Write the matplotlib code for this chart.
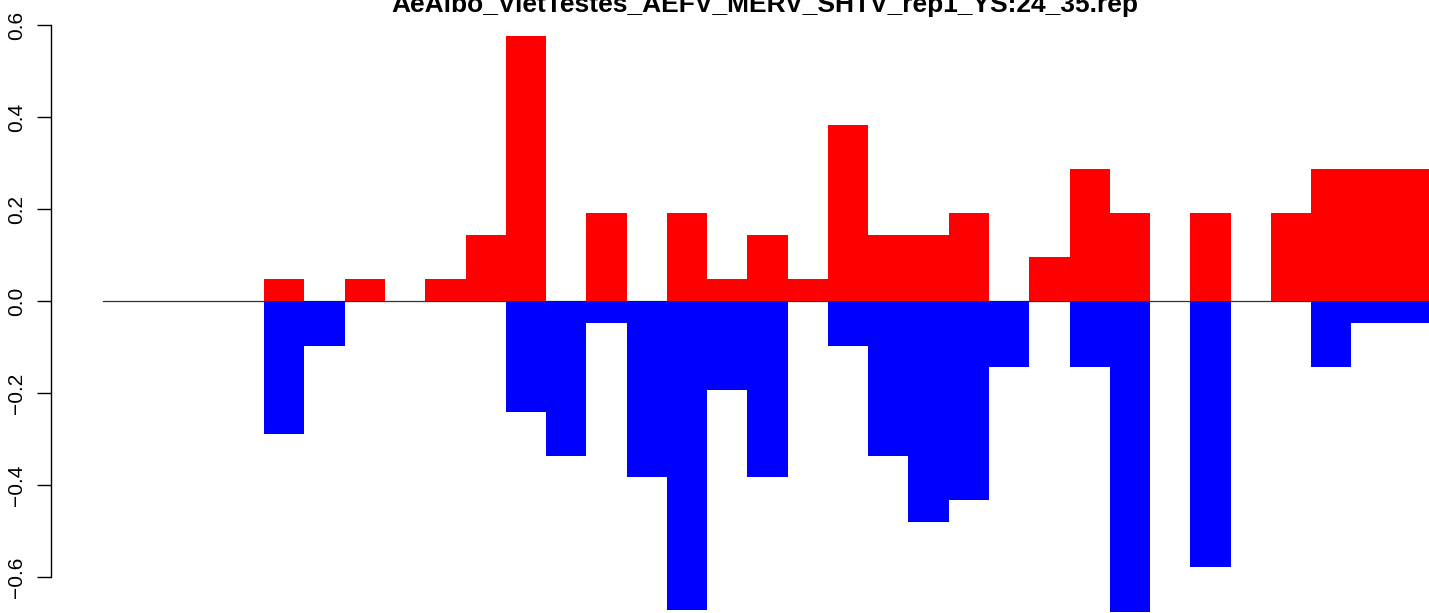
"""
Signed bar plot (R barplot style): red = positive share, blue = negative share,
one bar per position, no gaps between bars.

Output:
- out.png
"""

import matplotlib
matplotlib.use("Agg")
import matplotlib.pyplot as plt
import numpy as np


# -----------------------------
# Data
# -----------------------------
TITLE = "AeAlbo_VietTestes_AEFV_MERV_SHTV_rep1_YS:24_35.rep"

pos_values = [0, 0, 0, 0, 0.048, 0, 0.048, 0, 0.048, 0.143, 0.577, 0, 0.192, 0,
              0.192, 0.048, 0.143, 0.048, 0.383, 0.143, 0.143, 0.192, 0, 0.095,
              0.287, 0.192, 0, 0.192, 0, 0.192, 0.287, 0.287, 0.287]

neg_values = [0, 0, 0, 0, -0.288, -0.097, 0, 0, 0, 0, -0.240, -0.337, -0.048,
              -0.383, -0.672, -0.193, -0.383, 0, -0.097, -0.337, -0.480, -0.431,
              -0.143, 0, -0.143, -0.676, 0, -0.577, 0, 0, -0.143, -0.048, -0.048]

y_ticks = [-0.6, -0.4, -0.2, 0.0, 0.2, 0.4, 0.6]
y_ticklabels = ["\u22120.6", "\u22120.4", "\u22120.2", "0.0", "0.2", "0.4", "0.6"]


# -----------------------------
# Layout (the reference is a cropped R device)
# -----------------------------
W_PX, H_PX, DPI = 1429, 613, 100
X0_PX, BAR_PX = 103.1, 40.27      # left edge of first bar, bar width in px
Y0_PX, UNIT_PX = 301.2, 460.2     # y pixel of zero, px per unit


def main() -> None:
    plt.rcParams["font.family"] = ["Liberation Sans", "DejaVu Sans"]

    fig = plt.figure(figsize=(W_PX / DPI, H_PX / DPI), dpi=DPI)
    ax = fig.add_axes([0, 0, 1, 1])

    n = len(pos_values)
    x = np.arange(n)

    ax.bar(x, pos_values, width=1.0, align="edge", color="#FF0000", linewidth=0)
    ax.bar(x, neg_values, width=1.0, align="edge", color="#0000FF", linewidth=0)
    ax.plot([0, n], [0, 0], color="#333333", linewidth=0.9, zorder=0)

    # map pixels to data limits
    ax.set_xlim(-X0_PX / BAR_PX, (W_PX - X0_PX) / BAR_PX)
    ax.set_ylim((Y0_PX - H_PX) / UNIT_PX, Y0_PX / UNIT_PX)

    for s in ["top", "right", "bottom"]:
        ax.spines[s].set_visible(False)
    ax.spines["left"].set_position(("data", (50.7 - X0_PX) / BAR_PX))
    ax.spines["left"].set_bounds(-0.6, 0.6)
    ax.spines["left"].set_linewidth(1.0)

    ax.set_xticks([])
    ax.set_yticks(y_ticks)
    ax.set_yticklabels(y_ticklabels, rotation=90, va="center", fontsize=15)
    ax.tick_params(axis="y", direction="out", length=10, width=1.0, pad=8)

    fig.text(765 / W_PX, 1 - 12 / H_PX, TITLE, ha="center", va="baseline",
             fontsize=19, fontweight="bold")

    fig.savefig("out.png", dpi=DPI)
    plt.close(fig)


if __name__ == "__main__":
    main()
